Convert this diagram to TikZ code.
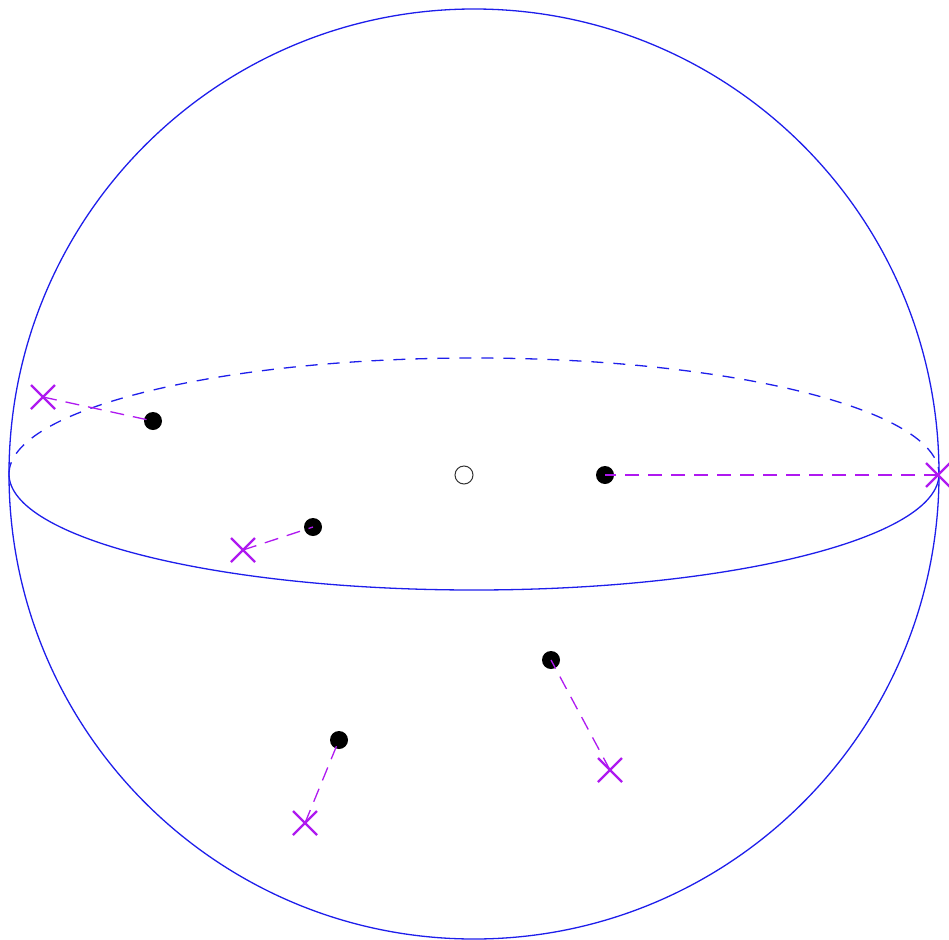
\documentclass[tikz,border=0pt]{standalone}
\definecolor{sphereblue}{RGB}{30,30,235}
\definecolor{projviolet}{RGB}{175,25,240}
\begin{document}
\begin{tikzpicture}[x=1pt,y=-1pt,
  rim/.style={sphereblue,line width=1.3pt},
  link/.style={projviolet,line width=1.3pt,dash pattern=on 14pt off 9pt},
  pt/.style={fill=black},
  xmark/.style={projviolet,line width=2.2pt}]
\useasboundingbox (0,0) rectangle (949,939);
\coordinate (O) at (474,474);
\coordinate (c) at (464,475);
% points inside the ball and their projections
\coordinate (p1) at (153,421);  \coordinate (q1) at (43,397);
\coordinate (p2) at (313,527);  \coordinate (q2) at (243,550);
\coordinate (p3) at (605,475);  \coordinate (q3) at (938,475);
\coordinate (p4) at (551,660);  \coordinate (q4) at (610,770);
\coordinate (p5) at (339,740);  \coordinate (q5) at (305,823);
\draw[rim] (O) circle (465);
\draw[rim] (O) ++(465,0) arc (0:180:465 and 116);
\draw[rim,dash pattern=on 12pt off 10pt] (O) ++(-465,0) arc (180:360:465 and 116);
\draw[black!80,line width=1pt] (c) circle (9);
\foreach \i in {1,...,5} {
  \fill[pt] (p\i) circle (9);
  \draw[link] (q\i) -- (p\i);
  \draw[xmark] (q\i) ++(-12,-12) -- ++(24,24) ++(0,-24) -- ++(-24,24);
}
\end{tikzpicture}
\end{document}
